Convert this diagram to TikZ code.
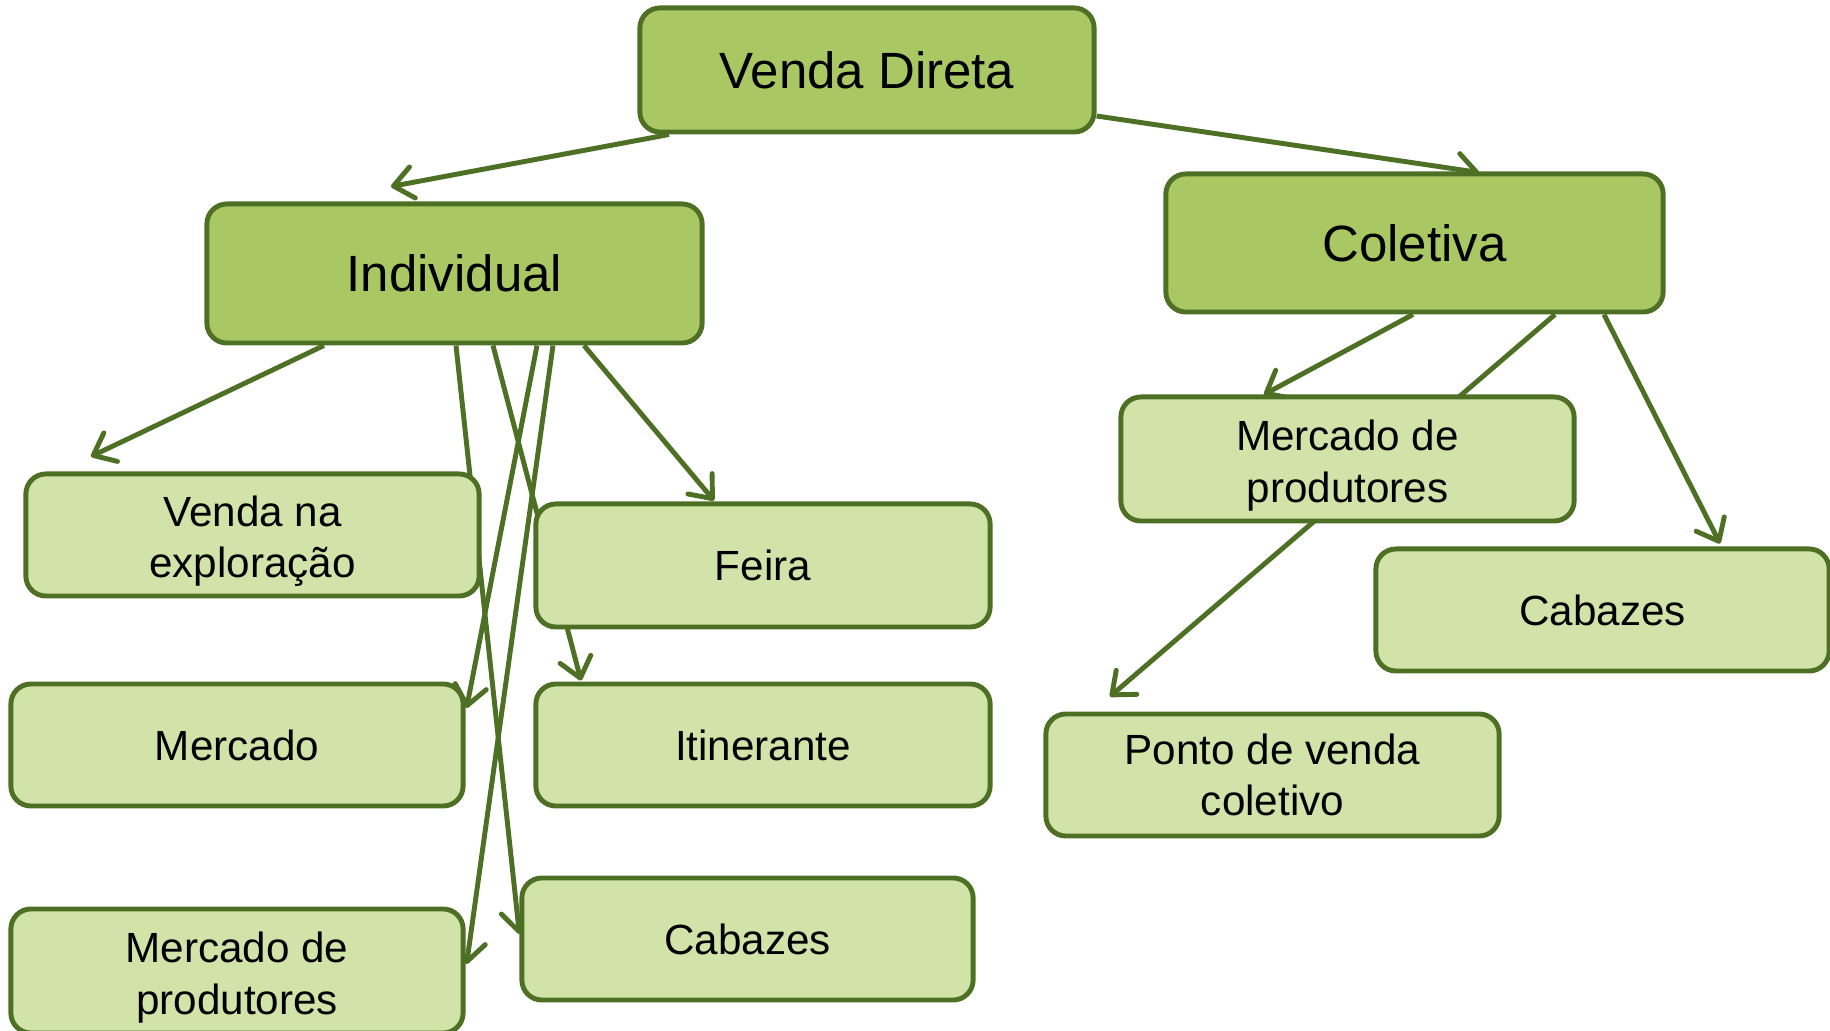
\documentclass[tikz,border=0pt]{standalone}
\usepackage{fontspec}
\setmainfont{Liberation Sans}
\usetikzlibrary{arrows.meta,calc}
\pgfdeclarelayer{background}
\pgfsetlayers{background,main}
\definecolor{boxline}{RGB}{78,112,36}
\definecolor{darkfill}{RGB}{169,200,100}
\definecolor{lightfill}{RGB}{209,227,168}
\newcommand{\lowertext}[1]{\raisebox{-0.065cm}[\height][\depth]{\parbox{4cm}{\centering #1}}}
\tikzset{
  basebox/.style={draw=boxline, line width=1.4pt, rounded corners=0.2cm, inner sep=0pt, align=center},
  mainbox/.style={basebox, fill=darkfill, font=\fontsize{14.5}{17}\selectfont},
  subbox/.style={basebox, fill=lightfill, font=\fontsize{12}{14.6}\selectfont},
  conn/.style={draw=boxline, line width=1.4pt, -{Straight Barb[length=5.5pt,width=9pt,round]}}
}
\begin{document}
\begin{tikzpicture}[x=0.01cm,y=-0.01cm]
\useasboundingbox (0,0) rectangle (1830,1031);
% main nodes
\node[mainbox, minimum width=4.54cm, minimum height=1.24cm] (vd) at (867,70) {Venda Direta};
\node[mainbox, minimum width=4.95cm, minimum height=1.39cm] (ind) at (454.5,273.5) {Individual};
\node[mainbox, minimum width=4.97cm, minimum height=1.38cm] (col) at (1414.5,243) {Coletiva};
% individual children
\node[subbox, minimum width=4.53cm, minimum height=1.22cm] (vne) at (252.5,535) {\lowertext{Venda na\\exploração}};
\node[subbox, minimum width=4.54cm, minimum height=1.23cm] (fei) at (763,565.5) {Feira};
\node[subbox, minimum width=4.52cm, minimum height=1.22cm] (mer) at (237,745) {Mercado};
\node[subbox, minimum width=4.54cm, minimum height=1.22cm] (iti) at (763,745) {Itinerante};
\node[subbox, minimum width=4.52cm, minimum height=1.24cm] (mpl) at (237,971) {\lowertext{Mercado de\\produtores}};
\node[subbox, minimum width=4.51cm, minimum height=1.22cm] (cal) at (747.5,939) {Cabazes};
% coletiva children
\node[subbox, minimum width=4.53cm, minimum height=1.24cm] (mpr) at (1347.5,459) {\lowertext{Mercado de\\produtores}};
\node[subbox, minimum width=4.53cm, minimum height=1.22cm] (car) at (1602.5,610) {Cabazes};
\node[subbox, minimum width=4.53cm, minimum height=1.22cm] (pvc) at (1272.5,775) {Ponto de venda\\coletivo};
\begin{pgfonlayer}{background}
\draw[conn] ($(vd.south)+(-198,0)$) -- ($(ind.north)+(-63.5,-15)$);
\draw[conn] ($(vd.east)+(0,46)$) -- ($(col.north)+(64.5,1)$);
\draw[conn] ($(ind.south)+(-130.5,0)$) -- ($(vne.north)+(-161.5,-15)$);
\draw[conn] ($(ind.south)+(129.5,0)$) -- ($(fei.north)+(-49,-1)$);
\draw[conn] ($(ind.south)+(38.5,0)$) -- ($(iti.north)+(-182,-1)$);
\draw[conn] ($(ind.south)+(82.5,0)$) -- ($(mer.east)+(1,-37)$);
\draw[conn] ($(ind.south)+(98.5,0)$) -- ($(mpl.east)+(1,-7)$);
\draw[conn] ($(ind.south)+(1.5,0)$) -- ($(cal.west)+(0,-5)$);
\draw[conn] ($(col.south)+(-1.5,0)$) -- ($(mpr.north)+(-83.5,0)$);
\draw[conn] ($(col.south)+(140.5,0)$) -- ($(pvc.north)+(-162.5,-15)$);
\draw[conn] ($(col.south)+(189.5,0)$) -- ($(car.north)+(117.5,-3)$);
\end{pgfonlayer}
\end{tikzpicture}
\end{document}
